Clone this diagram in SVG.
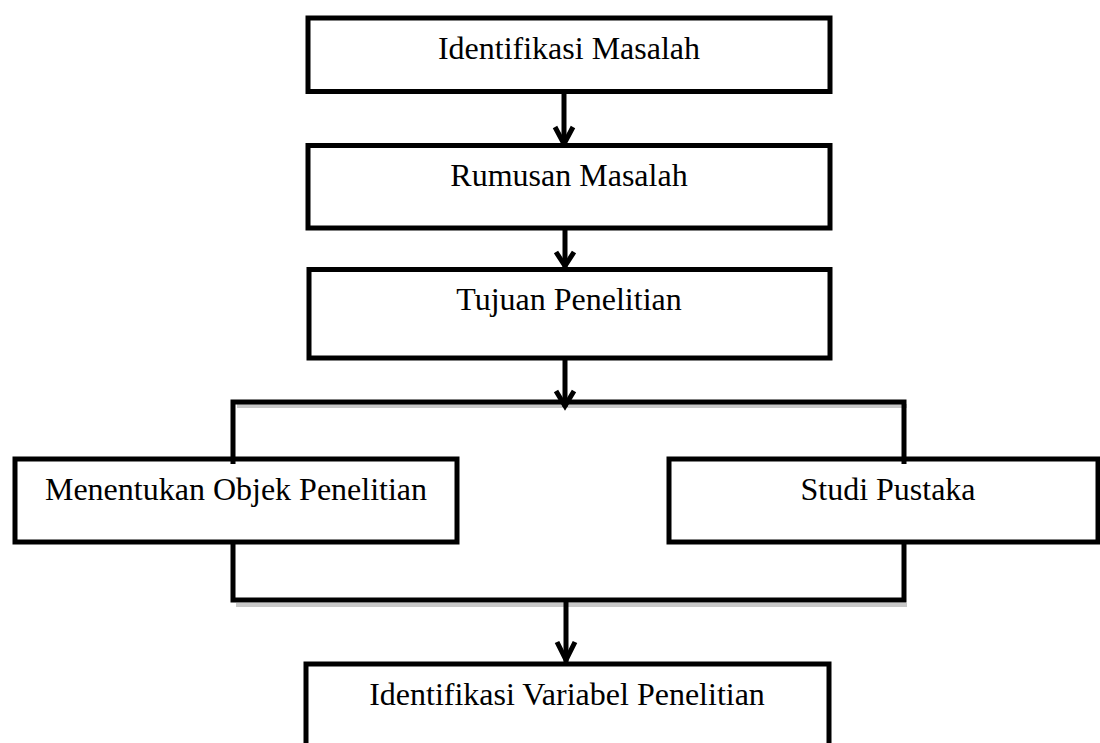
<svg xmlns="http://www.w3.org/2000/svg" width="1100" height="743" viewBox="0 0 1100 743">
<style>
.box{fill:#ffffff;stroke:#000000;stroke-width:5}
.lbl{font-family:"Liberation Serif","Times New Roman",serif;font-size:32px;fill:#000000;text-anchor:middle}
.ln{fill:none;stroke:#000000;stroke-width:5;stroke-linecap:butt;stroke-linejoin:miter}
.sh{fill:none;stroke:#c8c8c8;stroke-width:4}
.hd{fill:none;stroke:#000000;stroke-width:5;stroke-linecap:butt;stroke-linejoin:miter}
</style>
<rect width="1100" height="743" fill="#ffffff"/>
<g id="connectors">
<path class="sh" d="M236 605 H907 M237 406 H907 M236 464 V468 M907 464 V468"/>
<path class="ln" d="M564 92 V146"/>
<path class="hd" d="M555 127 L564 144 L573 127"/>
<path class="ln" d="M565 218 V268"/>
<path class="hd" d="M556 252 L565 266 L574 252"/>
<path class="ln" d="M565 358 V407"/>
<path class="hd" d="M556 391 L565 406 L574 391"/>
<path class="ln" d="M233 462 V402 H904 V462"/>
<path class="ln" d="M233 542 V600 H904 V542"/>
<path class="ln" d="M566 600 V662"/>
<path class="hd" d="M557 642 L566 660 L575 642"/>
</g>
<g id="n1"><rect class="box" x="308" y="18" width="522" height="73.5"/><text class="lbl" x="569" y="59">Identifikasi Masalah</text></g>
<g id="n2"><rect class="box" x="308" y="145.5" width="522" height="82.5"/><text class="lbl" x="569" y="186">Rumusan Masalah</text></g>
<g id="n3"><rect class="box" x="309" y="269.5" width="521" height="88.5"/><text class="lbl" x="569" y="310">Tujuan Penelitian</text></g>
<g id="n4"><rect class="box" x="15" y="459" width="442" height="83"/><text class="lbl" x="236" y="500">Menentukan Objek Penelitian</text></g>
<g id="n5"><rect class="box" x="669" y="459" width="429" height="83"/><text class="lbl" x="888" y="500">Studi Pustaka</text></g>
<g id="n6"><rect class="box" x="306" y="664" width="523" height="110"/><text class="lbl" x="567" y="705">Identifikasi Variabel Penelitian</text></g>
<path class="ln" d="M233 457 V464 M904 457 V464"/>
</svg>
